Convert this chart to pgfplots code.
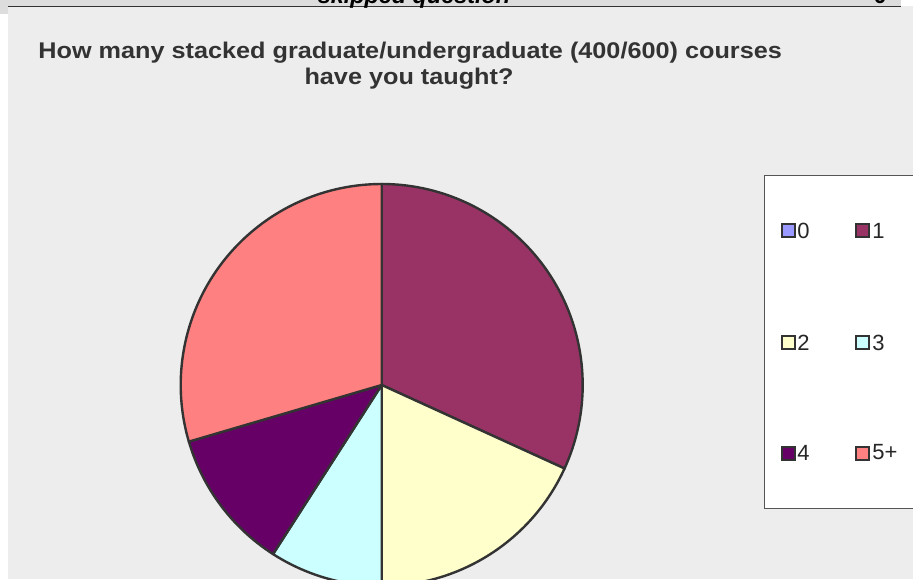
\documentclass[border=0pt]{standalone}
\usepackage{pgfplots}
\pgfplotsset{compat=1.18}
\usepackage{pgfplotstable}
\usepackage{fontspec}
\setmainfont{Liberation Sans}

\definecolor{pie0}{HTML}{9999FF}
\definecolor{pie1}{HTML}{993366}
\definecolor{pie2}{HTML}{FFFFCC}
\definecolor{pie3}{HTML}{CCFFFF}
\definecolor{pie4}{HTML}{660066}
\definecolor{pie5}{HTML}{FF8080}
\definecolor{pieedge}{HTML}{333333}
\definecolor{panel}{HTML}{EDEDED}
\definecolor{strip}{HTML}{DDDDDD}
\definecolor{titlecol}{HTML}{333333}
\definecolor{legborder}{HTML}{555555}

% answers per option
\pgfplotstableread{
label count
0     0
1     14
2     8
3     4
4     5
5+    13
}\piedata

\begin{document}
\begin{tikzpicture}
\useasboundingbox (0,0) rectangle (456.5pt,289.5pt);
\clip (0,0) rectangle (456.5pt,289.5pt);

% total and slice angles (clockwise from 12 o'clock)
\gdef\pietotal{0}
\foreach \i in {0,...,5}{%
  \pgfplotstablegetelem{\i}{count}\of\piedata
  \pgfmathsetmacro\tmp{\pietotal+\pgfplotsretval}%
  \xdef\pietotal{\tmp}}
\gdef\piecur{90}
\foreach \i in {0,...,5}{%
  \pgfplotstablegetelem{\i}{count}\of\piedata
  \pgfmathsetmacro\tmp{\piecur-360*\pgfplotsretval/\pietotal}%
  \expandafter\xdef\csname pieS\i\endcsname{\piecur}%
  \expandafter\xdef\csname pieE\i\endcsname{\tmp}%
  \xdef\piecur{\tmp}}

\begin{axis}[
    x=0.5pt, y=0.5pt,
    xmin=0, xmax=913, ymin=0, ymax=579,
    enlargelimits=false,
    hide axis,
    clip=false,
    at={(0,0)}, anchor=south west,
]
  % page background
  \fill[white] (axis cs:0,0) rectangle (axis cs:913,579);
  \fill[strip] (axis cs:0,572) rectangle (axis cs:901,579);
  \fill[strip] (axis cs:0,565) rectangle (axis cs:8,573);
  \fill[panel] (axis cs:8,0) rectangle (axis cs:913,572.5);
  \draw[pieedge, line width=0.7pt] (axis cs:8,572.5) -- (axis cs:901,572.5);

  % bottom of the cut-off row above the chart
  \node[anchor=base, inner sep=0, font=\fontsize{11.7pt}{13pt}\selectfont\bfseries\itshape]
    at (axis cs:414,575) {skipped question};
  \node[anchor=base, inner sep=0, font=\fontsize{11.7pt}{13pt}\selectfont\bfseries]
    at (axis cs:880,575) {0};

  % title
  \node[anchor=base west, inner sep=0, text=titlecol,
        font=\fontsize{11.35pt}{13pt}\selectfont\bfseries]
    at (axis cs:38,520.7) {\scalebox{1.112}[1]{How many stacked graduate/undergraduate (400/600) courses}};
  \node[anchor=base, inner sep=0, text=titlecol,
        font=\fontsize{11.35pt}{13pt}\selectfont\bfseries]
    at (axis cs:409,494) {\scalebox{1.112}[1]{have you taught?}};

  % slices
  \pgfplotsinvokeforeach{0,...,5}{
    \filldraw[fill=pie#1, draw=pieedge, line width=1.2pt, line join=round]
      (axis cs:381.7,194) -- ++(\csname pieS#1\endcsname:100.5pt)
      arc[start angle=\csname pieS#1\endcsname, end angle=\csname pieE#1\endcsname, radius=100.5pt]
      -- cycle;
  }

  % legend
  \draw[fill=white, draw=legborder, line width=0.8pt] (axis cs:764.5,70.5) rectangle (axis cs:925,403.5);
  \begin{scope}[every path/.style={draw=pieedge, line width=1pt}]
    \filldraw[fill=pie0] (axis cs:781.5,341.7) rectangle (axis cs:794.5,354.7);
    \filldraw[fill=pie1] (axis cs:855.5,341.7) rectangle (axis cs:868.5,354.7);
    \filldraw[fill=pie2] (axis cs:781.5,230) rectangle (axis cs:794.5,243);
    \filldraw[fill=pie3] (axis cs:855.5,230) rectangle (axis cs:868.5,243);
    \filldraw[fill=pie4] (axis cs:781.5,119.5) rectangle (axis cs:794.5,132.5);
    \filldraw[fill=pie5] (axis cs:855.5,119.5) rectangle (axis cs:868.5,132.5);
  \end{scope}
  \begin{scope}[every node/.style={anchor=west, inner sep=0, font=\fontsize{11pt}{13pt}\selectfont, text=black!85}]
    \node at (axis cs:797,348.2) {0};
    \node at (axis cs:872,348.2) {1};
    \node at (axis cs:797,236.5) {2};
    \node at (axis cs:872,236.5) {3};
    \node at (axis cs:797,126.5) {4};
    \node at (axis cs:872,126.5) {5+};
  \end{scope}
\end{axis}
\end{tikzpicture}
\end{document}
